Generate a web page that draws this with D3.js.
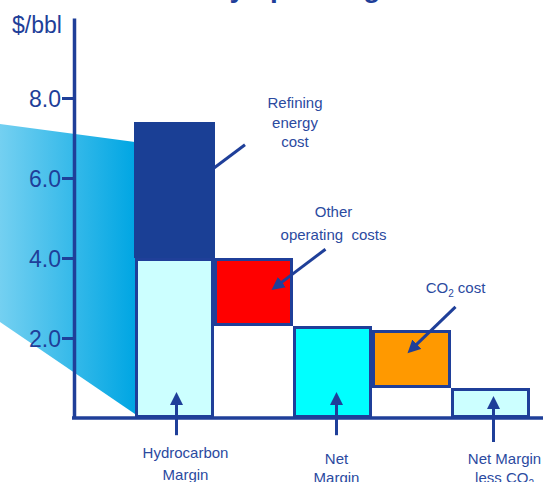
<!DOCTYPE html>
<html>
<head>
<meta charset="utf-8">
<script src="https://cdn.jsdelivr.net/npm/d3@7"></script>
<style>
  html, body { margin: 0; padding: 0; background: #fff; overflow: hidden; }
  text { font-family: "Liberation Sans", Arial, sans-serif; }
</style>
</head>
<body>
<script>
// Waterfall steps, left to right
const categories = ["Hydrocarbon Margin", "Other operating costs", "Net Margin", "CO2 cost", "Net Margin less CO2"];
const barLow  = [0.0, 2.3, 0.0, 0.75, 0.0];
const barHigh = [4.0, 4.0, 2.3, 2.2, 0.75];
// refining energy cost sits on top of the hydrocarbon margin
const energyLow = 4.0;
const energyHigh = 7.4;
// y axis
const yTicks = [2, 4, 6, 8];
const tickLabels = ["2.0", "4.0", "6.0", "8.0"];
// incoming wedge (values at its left and right edges: top, bottom)
const wedgeLeft = [7.35, 2.4];
const wedgeRight = [6.9, 0.1];

const W = 543, H = 482;
const navy = "#1f3f99";
const textBlue = "#2b4a9f";
const fills = ["#ccffff", "#ff0000", "#00ffff", "#ff9900", "#ccffff"];

const svg = d3.select("body").append("svg")
  .attr("width", W).attr("height", H);

const y = d3.scaleLinear().domain([0, 10]).range([418, 18]);
const x = d3.scaleBand().domain(categories).range([135, 530]).paddingInner(0).paddingOuter(0);
const bw = x.bandwidth();

const defs = svg.append("defs");
const grad = defs.append("linearGradient").attr("id", "wedgeGrad")
  .attr("x1", "0%").attr("x2", "100%").attr("y1", "0%").attr("y2", "0%");
grad.append("stop").attr("offset", "0%").attr("stop-color", "#74d0f1");
grad.append("stop").attr("offset", "100%").attr("stop-color", "#00a6e3");

defs.append("marker").attr("id", "head")
  .attr("markerUnits", "userSpaceOnUse")
  .attr("markerWidth", 14).attr("markerHeight", 14)
  .attr("refX", 5).attr("refY", 6.5)
  .attr("orient", "auto")
  .append("path").attr("d", "M0,0 L13,6.5 L0,13 Z").attr("fill", navy);

// Title (runs off the top edge)
svg.append("text")
  .attr("x", 133).attr("y", -3)
  .attr("font-size", 28).attr("font-weight", "bold")
  .attr("fill", navy)
  .text("Refinery operating costs");

// Wedge leading into the first column
const x0 = x(categories[0]);
svg.append("path")
  .attr("d", d3.line()([
    [0, y(wedgeLeft[0])], [x0, y(wedgeRight[0])],
    [x0, y(wedgeRight[1])], [0, y(wedgeLeft[1])]
  ]) + "Z")
  .attr("fill", "url(#wedgeGrad)");

// Refining energy cost block
svg.append("rect")
  .attr("x", x0 - 1).attr("width", bw + 2)
  .attr("y", y(energyHigh)).attr("height", y(energyLow) - y(energyHigh))
  .attr("fill", "#1a3f95");

// Waterfall bars
svg.selectAll("rect.step").data(categories).join("rect")
  .attr("class", "step")
  .attr("x", d => x(d) + 1.5)
  .attr("width", bw - 3)
  .attr("y", (d, i) => y(barHigh[i]) + 1.5)
  .attr("height", (d, i) => y(barLow[i]) - y(barHigh[i]) - 3)
  .attr("fill", (d, i) => fills[i])
  .attr("stroke", navy).attr("stroke-width", 3);

// Y axis
const yAxis = d3.axisLeft(y)
  .tickValues(yTicks)
  .tickFormat((d, i) => tickLabels[i])
  .tickSize(12).tickSizeOuter(0).tickPadding(1);
const gy = svg.append("g").attr("transform", "translate(74,0)").call(yAxis);
gy.select(".domain").attr("stroke", navy).attr("stroke-width", 3.5);
gy.selectAll(".tick line").attr("stroke", navy).attr("stroke-width", 3);
gy.selectAll(".tick text")
  .attr("fill", navy).attr("font-size", 23)
  .attr("font-family", "Liberation Sans, Arial, sans-serif")
  .attr("dy", "0.36em");

svg.append("text").attr("x", 12).attr("y", 33)
  .attr("font-size", 23).attr("fill", navy).text("$/bbl");

// X axis baseline
svg.append("line")
  .attr("x1", 72).attr("x2", W)
  .attr("y1", y(0)).attr("y2", y(0))
  .attr("stroke", navy).attr("stroke-width", 3.5);

// Annotation leaders
function leader(x1, y1, x2, y2, arrow) {
  // pull the line end back so the head's tip lands on (x2, y2)
  const dx = x2 - x1, dy = y2 - y1, len = Math.hypot(dx, dy);
  const back = arrow ? 8 : 0;
  const l = svg.append("line")
    .attr("x1", x1).attr("y1", y1)
    .attr("x2", x2 - dx / len * back).attr("y2", y2 - dy / len * back)
    .attr("stroke", navy).attr("stroke-width", 3);
  if (arrow) l.attr("marker-end", "url(#head)");
}

const xc = i => x(categories[i]) + bw / 2;

leader(x0 + bw, y(6.25), x0 + bw + 31, y(6.83), false);
leader(xc(1) + 72, y(4.22), xc(1) + 18, y(3.2), true);
leader(xc(3) + 44, y(2.78), xc(3) - 4, y(1.62), true);
leader(xc(0) + 2, y(-0.43), xc(0) + 2, y(0.65), true);
leader(xc(2) + 4, y(-0.43), xc(2) + 4, y(0.65), true);
leader(xc(4) + 3, y(-0.6), xc(4) + 3, y(0.55), true);

// Annotation text
function label(cx, lines, baseline, step) {
  const t = svg.append("text")
    .attr("text-anchor", "middle")
    .attr("font-size", 15).attr("fill", textBlue);
  lines.forEach((ln, k) => {
    const ts = t.append("tspan").attr("x", cx).attr("y", baseline + k * step);
    if (Array.isArray(ln)) {
      ts.text(ln[0]);
      ts.append("tspan").attr("font-size", 10).attr("dy", 4).text(ln[1]);
      ts.append("tspan").attr("dy", -4).text(ln[2]);
    } else {
      ts.text(ln);
    }
  });
}

label(x(categories[1]) + 81, ["Refining", "energy", "cost"], 108, 19.5);
label(xc(1) + 80, ["Other", "operating\u00a0 costs"], 217, 22.5);
label(xc(3) + 44, [["CO", "2", " cost"]], 293, 20);
label(xc(0) + 11, ["Hydrocarbon", "Margin"], 458, 22);
label(xc(2) + 4, ["Net", "Margin"], 464, 19);
label(xc(4) + 14, ["Net Margin", ["less CO", "2", ""]], 464, 19);
</script>
</body>
</html>
